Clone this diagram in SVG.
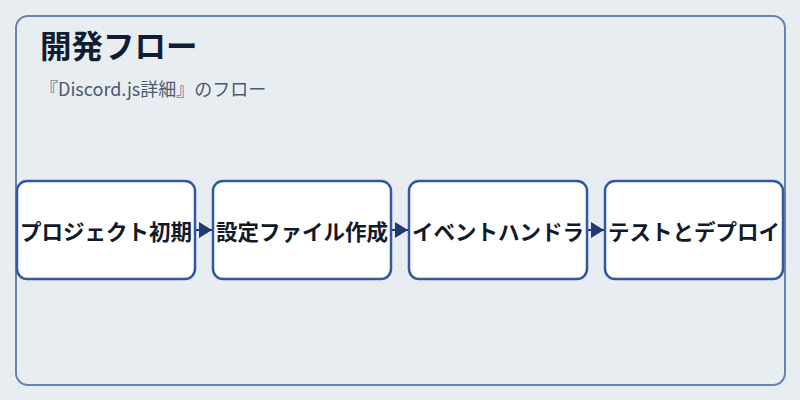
<svg xmlns="http://www.w3.org/2000/svg" width="800" height="400" viewBox="0 0 800 400">
<style>
.bg{fill:#e8edf2}
.frame{fill:#e8edf2;stroke:#6a82ad;stroke-width:2}
.node rect{fill:#ffffff;stroke:#3358a3;stroke-width:2.5}
.node text{font-family:"Noto Sans CJK JP","Noto Sans",sans-serif;font-weight:bold;font-size:21.5px;fill:#111a2b;text-anchor:middle;dominant-baseline:central}
.title{font-family:"Noto Sans CJK JP","Noto Sans",sans-serif;font-weight:bold;font-size:31.5px;fill:#111d30}
.sub{font-family:"Noto Sans CJK JP","Noto Sans",sans-serif;font-size:18px;fill:#4b5a70}
.conn{stroke:#1f3a72;stroke-width:2;fill:none}
</style>
<defs>
<marker id="ah" viewBox="0 0 13 16" refX="13" refY="8" markerWidth="13" markerHeight="16" markerUnits="userSpaceOnUse" orient="auto">
<path d="M0,0 L13,8 L0,16 Z" fill="#1f3a72"/>
</marker>
</defs>
<rect class="bg" x="0" y="0" width="800" height="400"/>
<rect class="frame" x="16" y="16" width="769" height="369" rx="12" ry="12"/>
<text class="title" x="40" y="58">開発フロー</text>
<text class="sub" x="40" y="96">『Discord.js詳細』のフロー</text>
<g id="connectors">
<path class="conn" d="M196,230 L212,230" marker-end="url(#ah)"/>
<path class="conn" d="M392,230 L408,230" marker-end="url(#ah)"/>
<path class="conn" d="M588,230 L604,230" marker-end="url(#ah)"/>
</g>
<g id="node1" class="node">
<rect x="17" y="181" width="178" height="98" rx="10" ry="10"/>
<text x="106" y="230">プロジェクト初期</text>
</g>
<g id="node2" class="node">
<rect x="213" y="181" width="178" height="98" rx="10" ry="10"/>
<text x="302" y="230">設定ファイル作成</text>
</g>
<g id="node3" class="node">
<rect x="409" y="181" width="178" height="98" rx="10" ry="10"/>
<text x="498" y="230">イベントハンドラ</text>
</g>
<g id="node4" class="node">
<rect x="605" y="181" width="178" height="98" rx="10" ry="10"/>
<text x="694" y="230">テストとデプロイ</text>
</g>
</svg>
